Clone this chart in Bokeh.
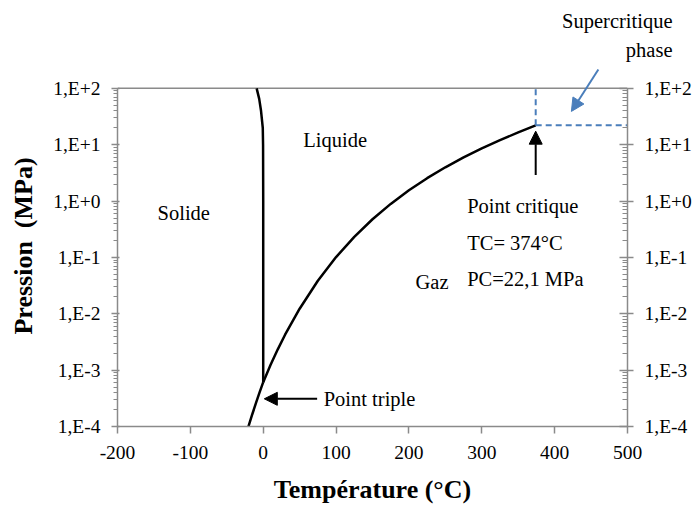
from bokeh.plotting import figure
from bokeh.models import (LogAxis, FixedTicker, CustomJSTickFormatter, Arrow,
                          NormalHead, Label, Title)
from bokeh.embed import file_html
from bokeh.resources import INLINE

# ---- data -------------------------------------------------------------
# sublimation curve (solid / gas)
sub_T = [-22.0, -20.0, -15.0, -10.0, -5.0, 0.01]
sub_P = [8.5e-5, 1.03e-4, 1.65e-4, 2.6e-4, 4.02e-4, 6.11e-4]
# vaporisation curve (liquid / gas), triple point -> critical point
vap_T = [0.01, 10, 20, 30, 50, 75, 100, 125, 150, 175, 200, 225, 250, 275,
         300, 325, 350, 374]
vap_P = [6.11e-4, 1.23e-3, 2.34e-3, 4.25e-3, 1.23e-2, 3.86e-2, 0.1014, 0.232,
         0.476, 0.892, 1.555, 2.548, 3.976, 5.942, 8.588, 12.05, 16.53, 22.1]
# melting curve (solid / liquid)
mel_T = [0.01, 0.0, -0.2, -0.6, -3.0, -5.5, -9.0]
mel_P = [6.11e-4, 1.0, 10.0, 20.0, 40.0, 65.0, 100.0]
# supercritical region border (from the critical point 374 °C, 22,1 MPa)
sc_vert_T = [374.0, 374.0]
sc_vert_P = [22.1, 100.0]
sc_hor_T = [374.0, 500.0]
sc_hor_P = [22.1, 22.1]

x_ticks = [-200, -100, 0, 100, 200, 300, 400, 500]
x_labels = ["-200", "-100", "0", "100", "200", "300", "400", "500"]
y_ticks = [1e-4, 1e-3, 1e-2, 1e-1, 1e0, 1e1, 1e2]
y_labels = ["1,E-4", "1,E-3", "1,E-2", "1,E-1", "1,E+0", "1,E+1", "1,E+2"]
y_minor = [m * 10.0 ** k for k in range(-4, 2) for m in range(2, 10)]

# annotation texts (x, y in data units)
labels = [
    ("Solide", -145.0, 0.62),
    ("Liquide", 55.0, 12.1),
    ("Gaz", 209.0, 0.0362),
    ("Point critique", 280.0, 0.805),
    ("TC= 374°C", 280.0, 0.1815),
    ("PC=22,1 MPa", 280.0, 0.041),
    ("Point triple", 83.0, 3.1e-4),
]
super_lines = ["Supercritique", "phase"]

# arrows: (x_start, y_start, x_end, y_end)
arrow_triple = (74.0, 3.1e-4, 1.5, 3.1e-4)
arrow_crit = (374.0, 2.9, 374.0, 17.4)
arrow_super = (460.0, 216.0, 423.0, 39.0)

# ---- styling ----------------------------------------------------------
FONT = "Liberation Serif"
GREY = "#8a8a8a"
BLUE = "#4a7ebb"

# the frame reaches a little above 1,E+2 so the supercritical arrow fits
Y_TOP = 254.6

p = figure(width=699, height=506, x_range=(-200, 500), y_range=(1e-4, Y_TOP),
           y_axis_type="log", output_backend="svg", toolbar_location=None,
           min_border_left=117, min_border_right=72, min_border_top=65,
           min_border_bottom=78)
p.background_fill_color = "white"
p.border_fill_color = "white"
p.grid.grid_line_color = None
p.outline_line_color = None

yfmt = CustomJSTickFormatter(args=dict(vals=y_ticks, labs=y_labels), code="""
for (let i = 0; i < vals.length; i++) {
  if (Math.abs(Math.log10(tick) - Math.log10(vals[i])) < 1e-6) return labs[i];
}
return "";
""")
xfmt = CustomJSTickFormatter(args=dict(vals=x_ticks, labs=x_labels), code="""
for (let i = 0; i < vals.length; i++) {
  if (Math.abs(tick - vals[i]) < 1e-6) return labs[i];
}
return "";
""")

# x axis
xa = p.xaxis[0]
xa.ticker = FixedTicker(ticks=x_ticks)
xa.formatter = xfmt
xa.axis_label = "Température (°C)"
xa.axis_label_text_font = FONT
xa.axis_label_text_font_style = "bold"
xa.axis_label_text_font_size = "26px"
xa.axis_label_text_color = "black"
xa.axis_label_standoff = 13
xa.major_label_text_font = FONT
xa.major_label_text_font_size = "19.5px"
xa.major_label_text_color = "black"
xa.major_label_standoff = 12
xa.axis_line_color = GREY
xa.axis_line_width = 1.5
xa.major_tick_line_color = GREY
xa.major_tick_line_width = 1.5
xa.major_tick_out = 7
xa.major_tick_in = 0
xa.minor_tick_line_color = None

# left y axis
ya = p.yaxis[0]
ya.ticker = FixedTicker(ticks=y_ticks, minor_ticks=y_minor)
ya.formatter = yfmt
ya.bounds = (y_ticks[0], y_ticks[-1])
ya.axis_label = "Pression\u00a0\u00a0(MPa)"
ya.axis_label_text_font = FONT
ya.axis_label_text_font_style = "bold"
ya.axis_label_text_font_size = "26px"
ya.axis_label_text_color = "black"
ya.axis_label_standoff = 12
ya.major_label_text_font = FONT
ya.major_label_text_font_size = "19.5px"
ya.major_label_text_color = "black"
ya.major_label_standoff = 11
ya.axis_line_color = GREY
ya.axis_line_width = 1.5
ya.major_tick_line_color = GREY
ya.major_tick_line_width = 1.5
ya.major_tick_out = 6
ya.major_tick_in = 2
ya.minor_tick_line_color = GREY
ya.minor_tick_line_width = 1
ya.minor_tick_out = 4
ya.minor_tick_in = 0

# right y axis
ra = LogAxis(ticker=FixedTicker(ticks=y_ticks, minor_ticks=y_minor), formatter=yfmt,
             bounds=(y_ticks[0], y_ticks[-1]))
ra.major_label_text_font = FONT
ra.major_label_text_font_size = "19.5px"
ra.major_label_text_color = "black"
ra.major_label_standoff = 11
ra.axis_line_color = GREY
ra.axis_line_width = 1.5
ra.major_tick_line_color = GREY
ra.major_tick_line_width = 1.5
ra.major_tick_out = 6
ra.major_tick_in = 8
ra.minor_tick_line_color = GREY
ra.minor_tick_line_width = 1
ra.minor_tick_out = 0
ra.minor_tick_in = 5
p.add_layout(ra, "right")

# top border of the plot area (at 1,E+2)
p.line([x_ticks[0], x_ticks[-1]], [y_ticks[-1], y_ticks[-1]],
       line_color=GREY, line_width=1.5)

# curves
p.line(sub_T, sub_P, line_color="black", line_width=2.5)
p.line(vap_T, vap_P, line_color="black", line_width=2.5)
p.line(mel_T, mel_P, line_color="black", line_width=2.5)
p.line(sc_vert_T, sc_vert_P, line_color=BLUE, line_width=2, line_dash="6 4")
p.line(sc_hor_T, sc_hor_P, line_color=BLUE, line_width=2, line_dash="6 4")

# arrows
for (xs, ys, xe, ye), col in [(arrow_triple, "black"), (arrow_crit, "black"),
                              (arrow_super, BLUE)]:
    p.add_layout(Arrow(end=NormalHead(size=13, fill_color=col, line_color=col),
                       x_start=xs, y_start=ys, x_end=xe, y_end=ye,
                       line_color=col, line_width=2))

# texts
for txt, x, y in labels:
    p.add_layout(Label(x=x, y=y, text=txt, text_font=FONT,
                       text_font_size="20.5px", text_color="black",
                       text_baseline="middle", text_align="left"))

HAS_STANDOFF = "standoff" in Title.properties()
for txt, so in zip(reversed(super_lines), [10, 0]):
    t = Title(text=txt, text_font=FONT, text_font_size="20.5px",
              text_font_style="normal", text_color="black",
              align="right", offset=-45)
    if HAS_STANDOFF:
        t.standoff = so
    p.add_layout(t, "above")

open("out.html", "w").write(file_html(p, INLINE))
